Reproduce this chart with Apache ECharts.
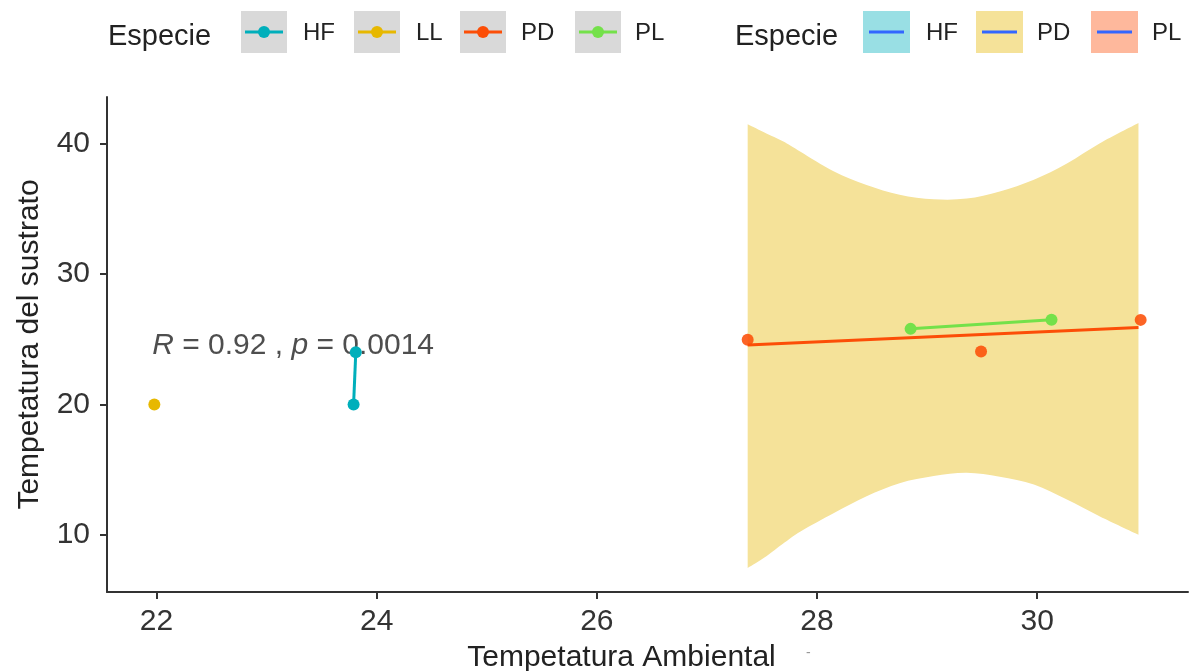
<!DOCTYPE html>
<html>
<head>
<meta charset="utf-8">
<script src="https://cdn.jsdelivr.net/npm/echarts@6/dist/echarts.min.js"></script>
<style>
  html, body { margin: 0; padding: 0; background: #fff; }
  #chart { width: 1202px; height: 671px; }
</style>
</head>
<body>
<div id="chart"></div>
<script>
// datos
const especies = ['HF', 'LL', 'PD', 'PL']
const colores = ['#00AFBB', '#E7B800', '#FC4E07', '#74E14A']

const hfPuntos = [[23.79, 20.0], [23.81, 24.0]]
const llPuntos = [[21.98, 20.0]]
const pdPuntos = [[27.37, 24.96], [29.49, 24.06], [30.94, 26.49]]
const plPuntos = [[28.85, 25.8], [30.13, 26.5]]

// rectas de regresion (geom_smooth)
const hfRecta = [[23.79, 20.0], [23.81, 24.0]]
const pdRecta = [[27.37, 24.57], [30.92, 25.9]]
const plRecta = [[28.85, 25.8], [30.13, 26.5]]

// banda de confianza de PD
const bandaX = [27.37, 27.54, 27.69, 27.85, 28.15, 28.45, 28.75, 29.06, 29.36, 29.66, 29.97, 30.27, 30.57, 30.92]
const bandaSup = [41.5, 40.8, 40.2, 39.4, 37.9, 36.85, 36.1, 35.75, 35.8, 36.35, 37.25, 38.5, 40.05, 41.6]
const bandaInf = [7.45, 8.35, 9.3, 10.25, 11.65, 12.95, 13.95, 14.5, 14.75, 14.45, 13.85, 12.7, 11.4, 10.0]

const xTicks = [22, 24, 26, 28, 30]
const yTicks = [10, 20, 30, 40]

const etiquetaCor = '{i|R} = 0.92 , {i|p} = 0.0014'
const etiquetaPos = [21.96, 24.5]

// segunda leyenda (rellenos)
const especiesBanda = ['HF', 'PD', 'PL']
const rellenos = ['#99DFE4', '#F5E299', '#FEB89C']

const fuente = 'Liberation Sans, Arial, sans-serif'

const ejeComun = {
  axisLine: { show: true, lineStyle: { color: '#333', width: 2 } },
  axisTick: { show: true, length: 7, lineStyle: { color: '#333', width: 2 } },
  splitLine: { show: false },
  axisLabel: { color: '#333', fontSize: 30, fontFamily: fuente },
  nameTextStyle: { color: '#222', fontSize: 30, fontFamily: fuente }
}

const linea = (datos, color) => ({
  type: 'line',
  data: datos,
  showSymbol: false,
  lineStyle: { color: color, width: 3 },
  z: 3,
  silent: true
})

const puntos = (datos, color, opacidad) => ({
  type: 'scatter',
  data: datos,
  symbolSize: 12,
  itemStyle: { color: color, opacity: opacidad || 1 },
  z: 4
})

// curva suave (catmull-rom) entre puntos ya convertidos a pixeles
function curva(pts) {
  let d = ''
  for (let i = 0; i < pts.length - 1; i++) {
    const p0 = pts[i - 1] || pts[i]
    const p1 = pts[i]
    const p2 = pts[i + 1]
    const p3 = pts[i + 2] || p2
    const c1 = [p1[0] + (p2[0] - p0[0]) / 6, p1[1] + (p2[1] - p0[1]) / 6]
    const c2 = [p2[0] - (p3[0] - p1[0]) / 6, p2[1] - (p3[1] - p1[1]) / 6]
    d += ' C' + c1[0] + ',' + c1[1] + ' ' + c2[0] + ',' + c2[1] + ' ' + p2[0] + ',' + p2[1]
  }
  return d
}

// leyendas dibujadas a mano (estilo ggplot)
const graficos = []
graficos.push({
  type: 'text', left: 108, top: 22,
  style: { text: 'Especie', fontSize: 29, fontFamily: fuente, fill: '#222' }
})
const cajas1 = [241, 354, 460, 575]
const textos1 = [303, 416, 521, 635]
especies.forEach((e, i) => {
  const x0 = cajas1[i]
  graficos.push({ type: 'rect', shape: { x: x0, y: 11, width: 46, height: 42 }, style: { fill: '#D9D9D9' } })
  graficos.push({ type: 'line', shape: { x1: x0 + 4, y1: 32, x2: x0 + 42, y2: 32 }, style: { stroke: colores[i], lineWidth: 3 } })
  graficos.push({ type: 'circle', shape: { cx: x0 + 23, cy: 32, r: 6 }, style: { fill: colores[i] } })
  graficos.push({
    type: 'text', left: textos1[i], top: 21,
    style: { text: e, fontSize: 24, fontFamily: fuente, fill: '#222' }
  })
})
graficos.push({
  type: 'text', left: 735, top: 22,
  style: { text: 'Especie', fontSize: 29, fontFamily: fuente, fill: '#222' }
})
const cajas2 = [863, 976, 1091]
const textos2 = [926, 1037, 1152]
especiesBanda.forEach((e, i) => {
  const x0 = cajas2[i]
  graficos.push({ type: 'rect', shape: { x: x0, y: 11, width: 47, height: 42 }, style: { fill: rellenos[i] } })
  graficos.push({ type: 'line', shape: { x1: x0 + 6, y1: 32, x2: x0 + 41, y2: 32 }, style: { stroke: '#3366FF', lineWidth: 3 } })
  graficos.push({
    type: 'text', left: textos2[i], top: 21,
    style: { text: e, fontSize: 24, fontFamily: fuente, fill: '#222' }
  })
})
graficos.push({
  type: 'text', left: 806, top: 646,
  style: { text: '-', fontSize: 14, fontFamily: fuente, fill: '#999' }
})

const option = {
  animation: false,
  backgroundColor: '#fff',
  textStyle: { fontFamily: fuente },
  grid: { left: 107, right: 14, top: 97, bottom: 79, outerBoundsMode: 'none' },
  xAxis: Object.assign({}, ejeComun, {
    type: 'value',
    min: 21.55,
    max: 31.37,
    name: 'Tempetatura Ambiental',
    nameLocation: 'middle',
    nameGap: 51,
    nameTextStyle: Object.assign({}, ejeComun.nameTextStyle, { padding: [0, 52, 0, 0] }),
    axisTick: Object.assign({}, ejeComun.axisTick, { customValues: xTicks }),
    axisLabel: Object.assign({}, ejeComun.axisLabel, { customValues: xTicks, margin: 15 })
  }),
  yAxis: Object.assign({}, ejeComun, {
    type: 'value',
    min: 5.6,
    max: 43.6,
    name: 'Tempetatura del sustrato',
    nameLocation: 'middle',
    nameGap: 62,
    axisTick: Object.assign({}, ejeComun.axisTick, { customValues: yTicks }),
    axisLabel: Object.assign({}, ejeComun.axisLabel, { customValues: yTicks, margin: 17 })
  }),
  graphic: graficos,
  series: [
    {
      type: 'custom',
      name: 'banda PD',
      data: bandaX.map((x, i) => [x, bandaSup[i], bandaInf[i]]),
      encode: { x: 0, y: [1, 2] },
      z: 1,
      silent: true,
      renderItem: function(params, api) {
        if (params.dataIndex !== 0) return
        const sup = bandaX.map((x, i) => api.coord([x, bandaSup[i]]))
        const inf = bandaX.map((x, i) => api.coord([x, bandaInf[i]])).reverse()
        const d = 'M' + sup[0][0] + ',' + sup[0][1] + curva(sup) +
          ' L' + inf[0][0] + ',' + inf[0][1] + curva(inf) + ' Z'
        return { type: 'path', shape: { pathData: d }, style: { fill: '#F5E299' } }
      }
    },
    {
      type: 'scatter',
      data: [etiquetaPos],
      symbolSize: 0,
      z: 2,
      silent: true,
      label: {
        show: true,
        position: 'right',
        distance: 0,
        formatter: etiquetaCor,
        color: '#222',
        fontSize: 30,
        fontFamily: fuente,
        rich: { i: { fontStyle: 'italic', fontSize: 30, fontFamily: fuente, color: '#222' } }
      }
    },
    linea(hfRecta, colores[0]),
    linea(pdRecta, colores[2]),
    linea(plRecta, colores[3]),
    puntos(hfPuntos, colores[0]),
    puntos(llPuntos, colores[1]),
    puntos(pdPuntos, colores[2], 0.88),
    puntos(plPuntos, colores[3])
  ]
}

const chart = echarts.init(document.getElementById('chart'))
chart.setOption(option)
</script>
</body>
</html>
